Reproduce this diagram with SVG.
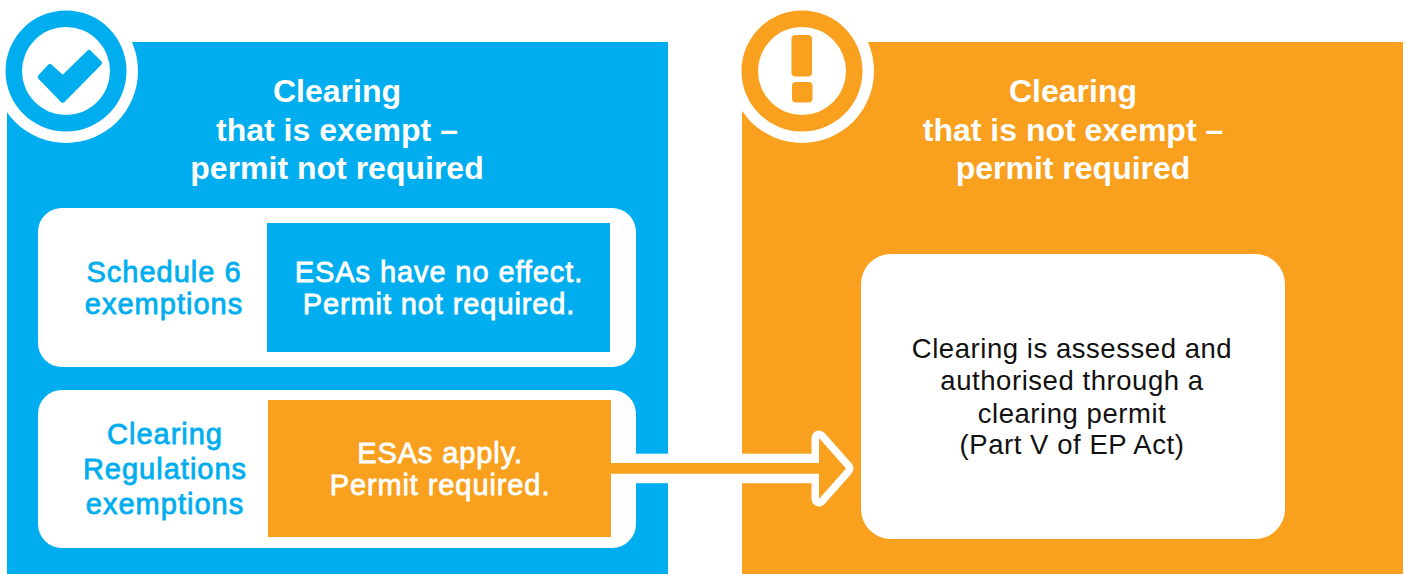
<svg xmlns="http://www.w3.org/2000/svg" width="1407" height="574" viewBox="0 0 1407 574">
<style>
text{font-family:"Liberation Sans",Arial,sans-serif;text-anchor:middle}
.blue{fill:#00aeef}.orange{fill:#f9a01e}.white{fill:#fff}
.h{font-size:32px;font-weight:700;fill:#fff}
.l{font-size:29px;letter-spacing:1px;fill:#00aeef;stroke:#00aeef;stroke-width:.8px}
.w{font-size:29px;letter-spacing:.9px;fill:#fff;stroke:#fff;stroke-width:.8px}
.b{font-size:27.5px;letter-spacing:.55px;fill:#111}
</style>
<rect width="1407" height="574" class="white"/>
<g id="exempt-panel">
<rect x="7" y="42" width="661" height="532" class="blue"/>
<circle cx="66" cy="71" r="72" class="white"/>
<circle cx="66" cy="71" r="60.5" class="blue"/>
<circle cx="66" cy="71" r="44" class="white"/>
<path d="M40.2 77L50 66.5L62.7 78.2L89 52.5L99.5 63L62.7 100.2Z" class="blue" stroke="#00aeef" stroke-width="5" stroke-linejoin="round"/>
<text class="h"><tspan x="337" y="102">Clearing</tspan><tspan x="337" y="141">that is exempt –</tspan><tspan x="337" y="179">permit not required</tspan></text>
</g>
<g id="schedule-6">
<rect x="38" y="208" width="598" height="159" rx="24" class="white"/>
<text class="l"><tspan x="164" y="282">Schedule 6</tspan><tspan x="164" y="314">exemptions</tspan></text>
<rect x="267" y="223" width="343" height="129" class="blue"/>
<text class="w"><tspan x="439" y="282">ESAs have no effect.</tspan><tspan x="439" y="314">Permit not required.</tspan></text>
</g>
<g id="clearing-regulations">
<rect x="38" y="390" width="598" height="158" rx="24" class="white"/>
<text class="l"><tspan x="165" y="444">Clearing</tspan><tspan x="165" y="479">Regulations</tspan><tspan x="165" y="514">exemptions</tspan></text>
<rect x="268" y="400" width="343" height="137" class="orange"/>
<text class="w"><tspan x="440" y="463">ESAs apply.</tspan><tspan x="440" y="495">Permit required.</tspan></text>
</g>
<g id="not-exempt-panel">
<rect x="742" y="42" width="661" height="532" class="orange"/>
<circle cx="802" cy="71" r="72" class="white"/>
<circle cx="802" cy="71" r="60.5" class="orange"/>
<circle cx="802" cy="71" r="44" class="white"/>
<rect x="791.5" y="35" width="20.5" height="41.5" rx="4" class="orange"/>
<rect x="792" y="82" width="20.5" height="20.5" rx="4" class="orange"/>
<text class="h"><tspan x="1073" y="102">Clearing</tspan><tspan x="1073" y="141">that is not exempt –</tspan><tspan x="1073" y="179">permit required</tspan></text>
</g>
<g id="permit">
<rect x="861" y="254" width="424" height="285" rx="30" class="white"/>
<text class="b"><tspan x="1072" y="358">Clearing is assessed and</tspan><tspan x="1072" y="390">authorised through a</tspan><tspan x="1072" y="423">clearing permit</tspan><tspan x="1072" y="454">(Part V of EP Act)</tspan></text>
</g>
<g id="connectors">
<rect x="611" y="453.7" width="205" height="29.5" class="white"/>
<path d="M819 438L846 468.5L819 499Z" fill="#fff" stroke="#fff" stroke-width="15" stroke-linejoin="round"/>
<path d="M611 463H819V438L846 468.5L819 499V473.7H611Z" class="orange"/>
</g>
</svg>
